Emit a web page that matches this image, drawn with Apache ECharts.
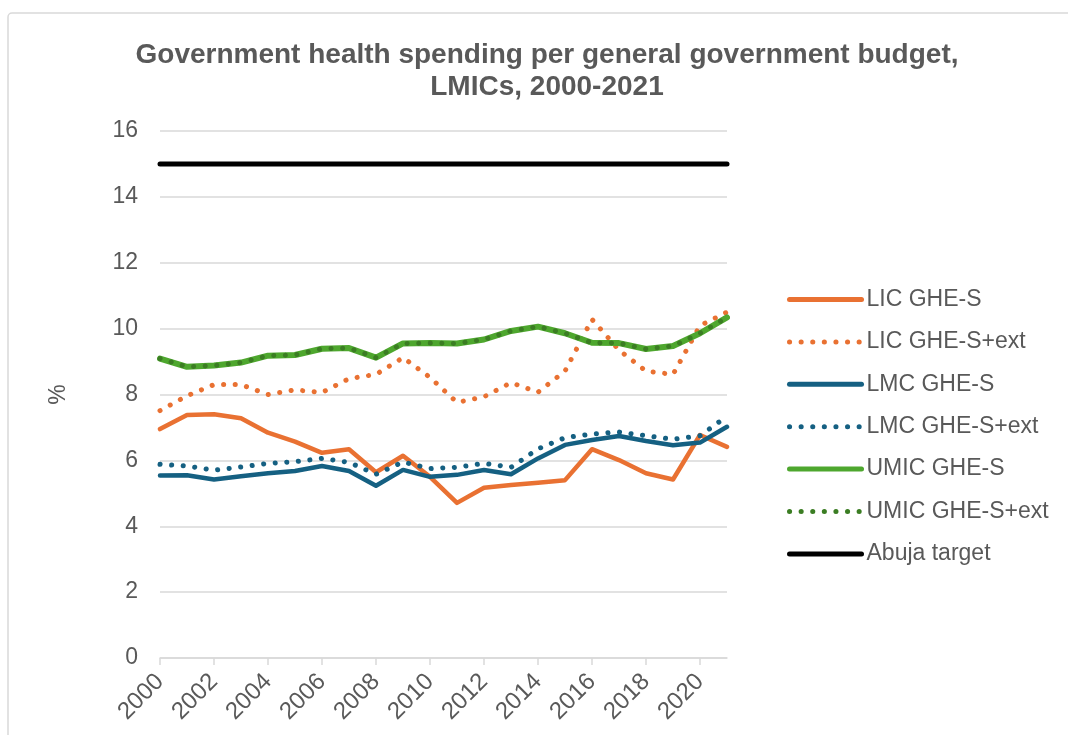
<!DOCTYPE html>
<html>
<head>
<meta charset="utf-8">
<title>Government health spending per general government budget</title>
<script src="https://cdn.jsdelivr.net/npm/echarts@6/dist/echarts.min.js"></script>
<style>
  html, body { margin: 0; padding: 0; background: #ffffff; }
  #chart { width: 1068px; height: 735px; }
</style>
</head>
<body>
<div id="chart"></div>
<script>
// Years on the category axis
const years = ['2000','2001','2002','2003','2004','2005','2006','2007','2008','2009','2010',
               '2011','2012','2013','2014','2015','2016','2017','2018','2019','2020','2021'];

// Government health expenditure as % of general government expenditure
const licGheS      = [6.95, 7.38, 7.40, 7.28, 6.84, 6.57, 6.23, 6.34, 5.64, 6.14, 5.50, 4.71, 5.17, 5.25, 5.32, 5.40, 6.34, 6.01, 5.61, 5.42, 6.77, 6.41];
const licGheSExt   = [7.51, 7.96, 8.30, 8.30, 8.00, 8.14, 8.06, 8.48, 8.61, 9.12, 8.52, 7.76, 7.93, 8.36, 8.07, 8.71, 10.28, 9.35, 8.71, 8.61, 10.09, 10.50];
const lmcGheS      = [5.54, 5.55, 5.42, 5.52, 5.61, 5.68, 5.83, 5.68, 5.23, 5.71, 5.50, 5.56, 5.71, 5.58, 6.06, 6.47, 6.62, 6.74, 6.59, 6.46, 6.54, 7.02];
const lmcGheSExt   = [5.88, 5.83, 5.70, 5.80, 5.91, 5.96, 6.06, 5.94, 5.58, 5.95, 5.75, 5.79, 5.91, 5.79, 6.35, 6.69, 6.80, 6.86, 6.75, 6.64, 6.75, 7.34];
const umicGheS     = [9.09, 8.84, 8.88, 8.97, 9.18, 9.20, 9.39, 9.41, 9.12, 9.55, 9.56, 9.55, 9.67, 9.93, 10.06, 9.86, 9.57, 9.56, 9.38, 9.47, 9.86, 10.34];
const umicGheSExt  = [9.09, 8.84, 8.88, 8.97, 9.18, 9.20, 9.39, 9.41, 9.12, 9.55, 9.56, 9.55, 9.67, 9.93, 10.06, 9.86, 9.57, 9.56, 9.38, 9.47, 9.86, 10.34];
const abujaTarget  = [15, 15, 15, 15, 15, 15, 15, 15, 15, 15, 15, 15, 15, 15, 15, 15, 15, 15, 15, 15, 15, 15];

// Value axis ticks
const yMin = 0, yMax = 16, yStep = 2;

const FONT = '"Liberation Sans", Arial, Helvetica, sans-serif';
const TEXT = '#595959';
const GRID = '#d9d9d9';

const ORANGE = '#E97132';
const BLUE = '#156082';
const GREEN = '#4EA72E';
const DARK_GREEN = '#3B7D23';

const DOTS = [0.1, 11.5];

function solid(name, data, color, width) {
  return {
    name, type: 'line', data, symbol: 'none', smooth: false,
    lineStyle: { color, width: width || 4.5, type: 'solid', cap: 'round', join: 'round' },
    itemStyle: { color }
  };
}
function dotted(name, data, color) {
  return {
    name, type: 'line', data, symbol: 'none', smooth: false,
    lineStyle: { color, width: 5, type: DOTS, cap: 'round', join: 'round' },
    itemStyle: { color }
  };
}

// legend entry: line only, no marker
function legendItem(name, dashed) {
  return {
    name,
    itemStyle: { opacity: 0 },
    lineStyle: dashed
      ? { width: 5, type: DOTS, cap: 'round' }
      : { width: 5, type: 'solid', cap: 'round' }
  };
}

const chart = echarts.init(document.getElementById('chart'), null, { renderer: 'canvas' });

chart.setOption({
  animation: false,
  backgroundColor: '#ffffff',
  textStyle: { fontFamily: FONT },
  graphic: [{
    type: 'rect', silent: true, z: -10,
    shape: { x: 8, y: 13, width: 1200, height: 900, r: 4 },
    style: { fill: 'none', stroke: GRID, lineWidth: 1.5 }
  }],
  title: {
    text: 'Government health spending per general government budget,\nLMICs, 2000-2021',
    left: 542, top: 34, textAlign: 'center',
    textStyle: { fontFamily: FONT, fontSize: 28, fontWeight: 'bold', color: TEXT, lineHeight: 32 }
  },
  legend: {
    orient: 'vertical', left: 787, top: 288, padding: 0,
    itemWidth: 72, itemHeight: 20, itemGap: 19.4,
    textStyle: { fontFamily: FONT, fontSize: 23, color: TEXT },
    itemStyle: { opacity: 0 },
    data: [
      legendItem('LIC GHE-S', false),
      legendItem('LIC GHE-S+ext', true),
      legendItem('LMC GHE-S', false),
      legendItem('LMC GHE-S+ext', true),
      legendItem('UMIC GHE-S', false),
      legendItem('UMIC GHE-S+ext', true),
      legendItem('Abuja target', false)
    ]
  },
  grid: { left: 160, right: 341, top: 131, bottom: 77, containLabel: false },
  xAxis: {
    type: 'category', data: years, boundaryGap: false,
    axisLine: { show: true, lineStyle: { color: GRID, width: 1.5 } },
    axisTick: { show: true, interval: 1, length: 7, lineStyle: { color: GRID, width: 1.5 } },
    axisLabel: { interval: 1, rotate: 45, margin: 20, fontSize: 24, color: TEXT, fontFamily: FONT },
    splitLine: { show: false }
  },
  yAxis: {
    type: 'value', min: yMin, max: yMax, interval: yStep,
    name: '%', nameLocation: 'middle', nameGap: 90, nameRotate: 90,
    nameTextStyle: { fontSize: 23, color: TEXT, fontFamily: FONT },
    axisLine: { show: false }, axisTick: { show: false },
    axisLabel: { margin: 22, fontSize: 23, color: TEXT, fontFamily: FONT },
    splitLine: { lineStyle: { color: GRID, width: 1.5 } }
  },
  series: [
    solid('LIC GHE-S', licGheS, ORANGE),
    dotted('LIC GHE-S+ext', licGheSExt, ORANGE),
    solid('LMC GHE-S', lmcGheS, BLUE),
    dotted('LMC GHE-S+ext', lmcGheSExt, BLUE),
    solid('UMIC GHE-S', umicGheS, GREEN, 6),
    dotted('UMIC GHE-S+ext', umicGheSExt, DARK_GREEN),
    solid('Abuja target', abujaTarget, '#000000', 5)
  ]
});
</script>
</body>
</html>
